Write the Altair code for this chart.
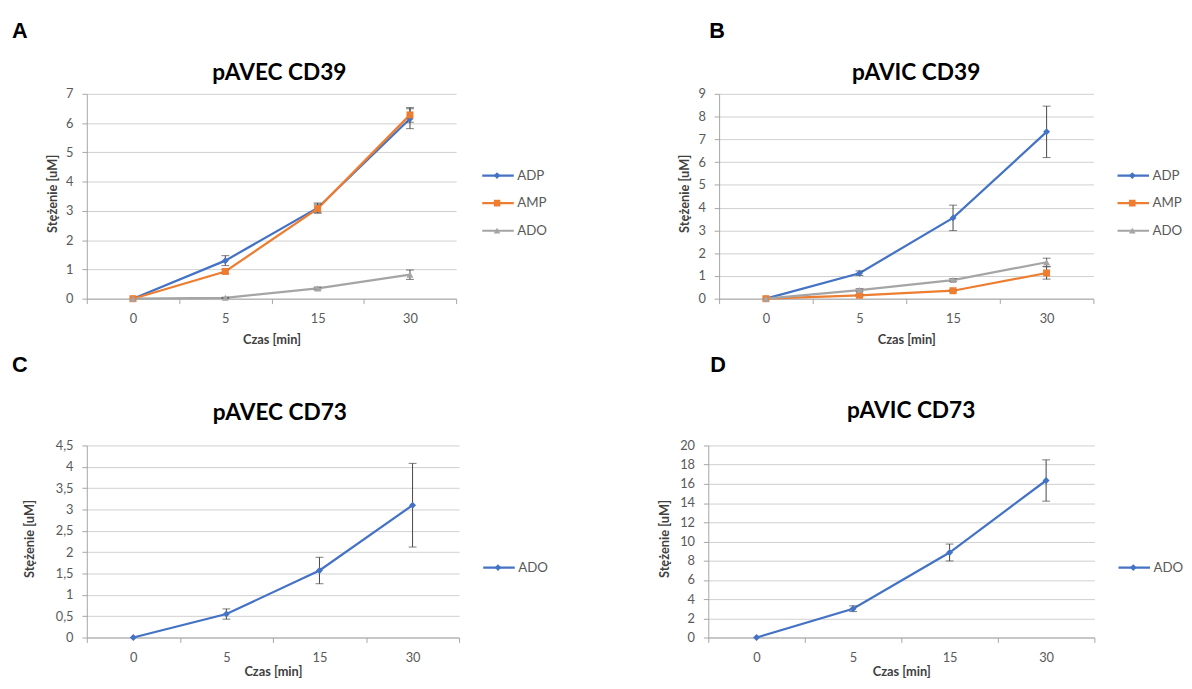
import altair as alt
import pandas as pd

# ---------------- data ----------------
times = ["0", "5", "15", "30"]

names3 = ["ADP", "AMP", "ADO"]
colors3 = ["#4472C4", "#ED7D31", "#A5A5A5"]
shapes3 = ["diamond", "square", "triangle-up"]

names1 = ["ADO"]
colors1 = ["#4472C4"]
shapes1 = ["diamond"]

# Panel A  - pAVEC CD39
a_adp = [0.0, 1.30, 3.10, 6.15]
a_adp_err = [0.0, 0.17, 0.17, 0.34]
a_amp = [0.0, 0.93, 3.08, 6.28]
a_amp_err = [0.0, 0.06, 0.15, 0.25]
a_ado = [0.0, 0.03, 0.35, 0.82]
a_ado_err = [0.0, 0.02, 0.05, 0.16]

# Panel B  - pAVIC CD39
b_adp = [0.0, 1.12, 3.55, 7.33]
b_adp_err = [0.0, 0.10, 0.56, 1.13]
b_amp = [0.0, 0.15, 0.35, 1.13]
b_amp_err = [0.0, 0.04, 0.05, 0.27]
b_ado = [0.0, 0.38, 0.82, 1.60]
b_ado_err = [0.0, 0.06, 0.06, 0.18]

# Panel C  - pAVEC CD73
c_ado = [0.0, 0.55, 1.57, 3.10]
c_ado_err = [0.0, 0.12, 0.31, 0.98]

# Panel D  - pAVIC CD73
d_ado = [0.0, 3.00, 8.85, 16.35]
d_ado_err = [0.0, 0.30, 0.88, 2.15]

letters = ["A", "B", "C", "D"]
titles = ["pAVEC CD39", "pAVIC CD39", "pAVEC CD73", "pAVIC CD73"]

ticks_a = [0, 1, 2, 3, 4, 5, 6, 7]
ticks_b = [0, 1, 2, 3, 4, 5, 6, 7, 8, 9]
ticks_c = [0, 0.5, 1, 1.5, 2, 2.5, 3, 3.5, 4, 4.5]
ticks_d = [0, 2, 4, 6, 8, 10, 12, 14, 16, 18, 20]

x_title = "Czas [min]"
y_title = "Stężenie [uM]"

FONT = "Lato"
LABEL_COLOR = "#595959"
TITLE_COLOR = "#404040"
GRID = "#CFCFCF"
AXIS_LINE = "#A6A6A6"
ERR_COLOR = "#454545"


def make_df(names, values, errs):
    rows = []
    for name, vals, es in zip(names, values, errs):
        for t, v, e in zip(times, vals, es):
            rows.append({"t": t, "series": name, "v": v,
                         "lo": v - e, "hi": v + e, "e": e})
    return pd.DataFrame(rows)


def panel(letter, title, names, cols, shps, values, errs, ymax, yticks,
          w, h, ytitle_x, xtitle_y, letter_x, letter_y, title_dx, title_y,
          legend_x, legend_y, comma=False):
    df = make_df(names, values, errs)

    x_axis = alt.Axis(
        title=x_title, labelAngle=0, tickBand="extent", grid=False,
        domainColor=AXIS_LINE, tickColor=AXIS_LINE, tickSize=5,
        labelPadding=9, labelFont=FONT, labelFontSize=13,
        labelColor=LABEL_COLOR, titleFont=FONT, titleFontSize=13,
        titleFontWeight="bold", titleColor=TITLE_COLOR,
        titleX=w / 2, titleY=xtitle_y, titleBaseline="middle",
        titleAlign="center",
    )
    y_kwargs = dict(
        values=yticks, title=y_title, grid=True, gridColor=GRID,
        domainColor=AXIS_LINE, tickColor=AXIS_LINE, tickSize=5,
        labelPadding=9, labelFont=FONT, labelFontSize=13,
        labelColor=LABEL_COLOR, titleFont=FONT, titleFontSize=13,
        titleFontWeight="bold", titleColor=TITLE_COLOR,
        titleAngle=270, titleX=ytitle_x, titleY=h / 2 - 3,
        titleBaseline="middle", titleAlign="center", format="~g",
    )
    if comma:
        y_kwargs["labelExpr"] = "replace(datum.label, '.', ',')"
    y_axis = alt.Axis(**y_kwargs)

    xs = alt.Scale(type="band", domain=times, paddingInner=0, paddingOuter=0)
    ys = alt.Scale(domain=[0, ymax], nice=False, zero=True)

    x = alt.X("t:N", scale=xs, axis=x_axis, sort=times)
    y = alt.Y("v:Q", scale=ys, axis=y_axis)

    base = alt.Chart(df)

    line_legend = alt.Legend(
        orient="none", legendX=legend_x, legendY=legend_y, title=None,
        symbolType="stroke", symbolSize=1024, symbolStrokeWidth=2.25,
        labelFont=FONT, labelFontSize=13.5, labelColor=LABEL_COLOR,
        labelOffset=2, rowPadding=0, padding=0, clipHeight=28,
    )
    mark_legend = alt.Legend(
        orient="none", legendX=legend_x + 13, legendY=legend_y, title=None,
        symbolSize=45, labelFont=FONT, labelFontSize=1,
        labelOpacity=0, rowPadding=0, padding=0, symbolStrokeWidth=0,
        clipHeight=28,
    )

    line = base.mark_line(strokeWidth=2.25).encode(
        x=x, y=y,
        color=alt.Color("series:N", scale=alt.Scale(domain=names, range=cols),
                        legend=line_legend),
    )
    err = base.transform_filter("datum.e > 0").mark_errorbar(
        ticks={"size": 8}, color=ERR_COLOR, thickness=1
    ).encode(
        x=alt.X("t:N", scale=xs, sort=times, axis=x_axis),
        y=alt.Y("lo:Q", scale=ys, axis=y_axis),
        y2="hi:Q",
    )
    pts = base.mark_point(filled=True, opacity=1, size=50).encode(
        x=x, y=y,
        fill=alt.Fill("series:N", scale=alt.Scale(domain=names, range=cols),
                      legend=mark_legend),
        shape=alt.Shape("series:N", scale=alt.Scale(domain=names, range=shps),
                        legend=mark_legend),
    )
    letter_txt = alt.Chart(pd.DataFrame({"label": [letter]})).mark_text(
        font="Liberation Sans", fontSize=22, fontWeight="bold",
        align="left", baseline="alphabetic", color="#000000",
    ).encode(x=alt.value(letter_x), y=alt.value(letter_y), text="label:N")
    title_txt = alt.Chart(pd.DataFrame({"label": [title]})).mark_text(
        font=FONT, fontSize=23, fontWeight="bold",
        align="center", baseline="alphabetic", color="#000000",
    ).encode(x=alt.value(w / 2 + title_dx), y=alt.value(title_y), text="label:N")

    return alt.layer(line, err, pts, letter_txt, title_txt).resolve_scale(
        color="independent", fill="independent", shape="independent"
    ).properties(width=w, height=h)


pa = panel(letters[0], titles[0], names3, colors3, shapes3,
           [a_adp, a_amp, a_ado], [a_adp_err, a_amp_err, a_ado_err],
           7, ticks_a, 375, 208, -35, 42, -76, -57, 8, -14, 400, 69)
pb = panel(letters[1], titles[1], names3, colors3, shapes3,
           [b_adp, b_amp, b_ado], [b_adp_err, b_amp_err, b_ado_err],
           9, ticks_b, 380, 208, -35, 42, -10, -57, 10, -14, 403, 69)
pc = panel(letters[2], titles[2], names1, colors1, shapes1,
           [c_ado], [c_ado_err],
           4.5, ticks_c, 378, 195, -58, 35, -76, -75, 7, -26, 401, 110,
           comma=True)
pd_ = panel(letters[3], titles[3], names1, colors1, shapes1,
            [d_ado], [d_ado_err],
            20, ticks_d, 392, 195, -44, 35, 2, -75, 10, -28, 415, 110)

row1 = alt.hconcat(pa, pb, spacing=267, bounds="flush")
row2 = alt.hconcat(pc, pd_, spacing=253, bounds="flush")

chart = alt.vconcat(row1, row2, spacing=7).properties(
    padding={"left": 4, "top": 7, "right": 0, "bottom": -4},
    background="#FFFFFF",
).configure_view(stroke=None)

chart.save("out.html", embed_options={"renderer": "svg", "actions": False})
